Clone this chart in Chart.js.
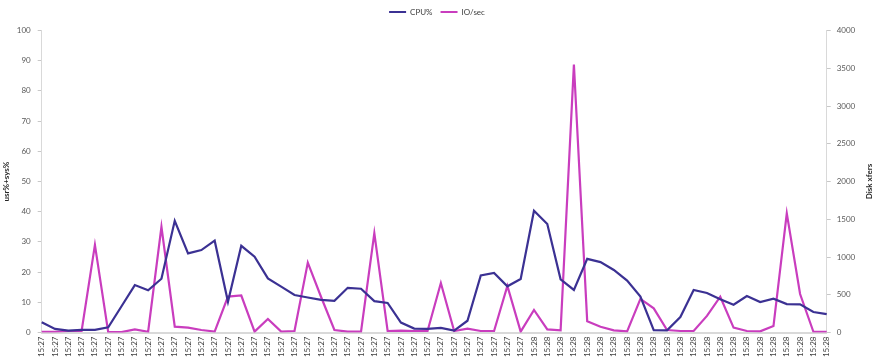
<!DOCTYPE html>
<html>
<head>
<meta charset="utf-8">
<style>
  html, body { margin: 0; padding: 0; background: #ffffff; }
  #wrap { width: 874px; height: 364px; }
</style>
<script src="https://cdn.jsdelivr.net/npm/chart.js@4/dist/chart.umd.min.js"></script>
</head>
<body>
<div id="wrap"><canvas id="chart" width="874" height="364"></canvas></div>
<script>
// Sample timestamps (one per interval)
const timeLabels = [
  "15:27","15:27","15:27","15:27","15:27","15:27","15:27","15:27","15:27","15:27",
  "15:27","15:27","15:27","15:27","15:27","15:27","15:27","15:27","15:27","15:27",
  "15:27","15:27","15:27","15:27","15:27","15:27","15:27","15:27","15:27","15:27",
  "15:27","15:27","15:27","15:27","15:27","15:27","15:27","15:28","15:28","15:28",
  "15:28","15:28","15:28","15:28","15:28","15:28","15:28","15:28","15:28","15:28",
  "15:28","15:28","15:28","15:28","15:28","15:28","15:28","15:28","15:28","15:28"
];

// CPU utilisation, usr% + sys%
const cpuPercent = [
  3.4, 1.2, 0.6, 0.9, 0.9, 1.7, 8.7, 15.7, 14.0, 17.8,
  37.0, 26.2, 27.3, 30.4, 10.2, 28.7, 25.1, 17.9, 15.2, 12.4,
  11.6, 10.8, 10.5, 14.8, 14.5, 10.4, 9.8, 3.3, 1.3, 1.2,
  1.5, 0.6, 3.9, 18.9, 19.7, 15.3, 17.7, 40.3, 35.9, 17.6,
  14.1, 24.4, 23.3, 20.7, 17.2, 11.9, 0.8, 0.7, 5.1, 14.1,
  13.1, 11.0, 9.2, 12.1, 10.1, 11.2, 9.4, 9.3, 6.8, 6.1
];

// Disk transfers per second
const ioPerSec = [
  10, 10, 20, 20, 1160, 5, 5, 42, 10, 1400,
  77, 64, 33, 11, 475, 490, 11, 179, 11, 20,
  925, 470, 33, 11, 11, 1315, 20, 24, 20, 20,
  655, 20, 51, 20, 20, 616, 11, 298, 42, 29,
  3550, 150, 77, 29, 15, 445, 320, 33, 20, 20,
  220, 474, 64, 20, 15, 86, 1579, 510, 10, 10
];

const seriesNames = ["CPU%", "IO/sec"];
const leftAxisTitle = "usr%+sys%";
const rightAxisTitle = "Disk xfers";

const FONT = "Lato, 'Open Sans', 'Liberation Sans', sans-serif";
const tickColor = "#595959";
const axisLine = "#d9d9d9";

// Makes the legend band a fixed height so the plot starts at the same place
const legendBand = {
  id: "legendBand",
  beforeInit(chart) {
    const fit = chart.legend.fit;
    chart.legend.fit = function () {
      fit.call(chart.legend);
      this.height = 30.5;
    };
  }
};

// Right-hand axis title, read bottom-to-top like the left one
const rightTitle = {
  id: "rightTitle",
  afterDraw(chart) {
    const { ctx, chartArea } = chart;
    const x = chart.scales.y1.right - 5;
    ctx.save();
    ctx.translate(x, (chartArea.top + chartArea.bottom) / 2);
    ctx.rotate(-Math.PI / 2);
    ctx.font = "bold 8px " + FONT;
    ctx.fillStyle = "#262626";
    ctx.textAlign = "center";
    ctx.textBaseline = "middle";
    ctx.fillText(rightAxisTitle, 0, 0);
    ctx.restore();
  }
};

// Plain integers, no thousands separator
const plainNumber = (value) => String(value);

new Chart(document.getElementById("chart"), {
  type: "line",
  data: {
    labels: timeLabels,
    datasets: [
      {
        label: seriesNames[0],
        data: cpuPercent,
        yAxisID: "y",
        borderColor: "#3b3193",
        backgroundColor: "#3b3193",
        borderWidth: 2.2,
        pointRadius: 0,
        tension: 0
      },
      {
        label: seriesNames[1],
        data: ioPerSec,
        yAxisID: "y1",
        borderColor: "#c93dbe",
        backgroundColor: "#c93dbe",
        borderWidth: 2.2,
        pointRadius: 0,
        tension: 0
      }
    ]
  },
  options: {
    responsive: false,
    animation: false,
    layout: { padding: 0 },
    plugins: {
      legend: {
        position: "top",
        labels: {
          usePointStyle: true,
          pointStyle: "line",
          pointStyleWidth: 17,
          boxHeight: 8,
          padding: 8,
          color: "#404040",
          font: { family: FONT, size: 8 }
        }
      },
      tooltip: { enabled: false }
    },
    scales: {
      x: {
        offset: false,
        afterFit(scale) { scale.height = 31.5; },
        grid: { display: false, drawTicks: false },
        border: { display: true, color: axisLine, width: 2 },
        ticks: {
          autoSkip: false,
          minRotation: 90,
          maxRotation: 90,
          padding: 4,
          color: "#404040",
          font: { family: FONT, size: 8 }
        }
      },
      y: {
        position: "left",
        min: 0,
        max: 100,
        afterFit(scale) { scale.width = 41.7; },
        grid: { drawOnChartArea: false, drawTicks: true, tickLength: 4, color: "#c8c8c8" },
        border: { display: true, color: axisLine, width: 1 },
        ticks: {
          stepSize: 10,
          padding: 7,
          color: tickColor,
          callback: plainNumber,
          font: { family: FONT, size: 8 }
        },
        title: {
          display: true,
          text: leftAxisTitle,
          color: "#262626",
          padding: { top: 2, bottom: 0 },
          font: { family: FONT, size: 8, weight: "bold" }
        }
      },
      y1: {
        position: "right",
        min: 0,
        max: 4000,
        afterFit(scale) { scale.width = 47.3; },
        grid: { drawOnChartArea: false, drawTicks: true, tickLength: 4, color: "#c8c8c8" },
        border: { display: true, color: axisLine, width: 1 },
        ticks: {
          stepSize: 500,
          padding: 6,
          color: tickColor,
          callback: plainNumber,
          font: { family: FONT, size: 8 }
        }
      }
    }
  },
  plugins: [legendBand, rightTitle]
});
</script>
</body>
</html>
